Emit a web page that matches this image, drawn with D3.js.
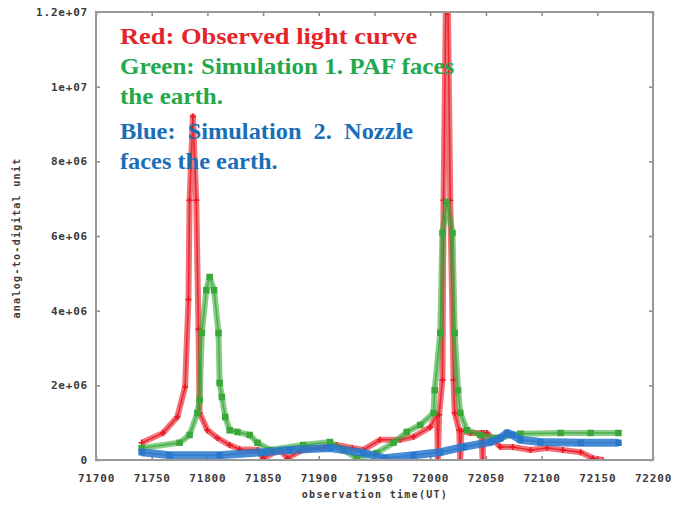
<!DOCTYPE html>
<html>
<head>
<meta charset="utf-8">
<script src="https://cdn.jsdelivr.net/npm/d3@7"></script>
<style>
  body { margin: 0; background: #fff; }
  svg { display: block; }
  .tick text { font-family: "DejaVu Sans Mono", monospace; font-weight: bold; font-size: 11px; fill: #3a3a3a; letter-spacing: 0.8px; }
  .tick line { stroke: #888; stroke-width: 1.5; }
  .title { font-family: "DejaVu Sans Mono", monospace; font-weight: bold; font-size: 10px; fill: #3a3a3a; letter-spacing: 1.3px; }
  .note { font-family: "Liberation Serif", "Times New Roman", serif; font-weight: bold; font-size: 23px; }
</style>
</head>
<body>
<svg width="675" height="505"></svg>
<script>
// observed light curve (red)
var redTime = [71741, 71760, 71773, 71780, 71783, 71784, 71787, 71790, 71792, 71793, 71800, 71809, 71820, 71829,
  71845, 71850, 71865, 71872, 71883, 71890, 71905, 71916, 71930, 71940, 71955, 71973, 71985, 72000, 72006, 72007,
  72008, 72011, 72012, 72014, 72016, 72018, 72021, 72022, 72026, 72027, 72028, 72036, 72046, 72047, 72048, 72051,
  72063, 72074, 72090, 72105, 72119, 72135, 72146, 72155];
var redADU = [0.46e6, 0.72e6, 1.15e6, 1.96e6, 4.3e6, 6.96e6, 9.2e6, 6.96e6, 3.5e6, 1.26e6, 0.8e6, 0.59e6, 0.4e6, 0.29e6,
  0.27e6, 0.05e6, 0.27e6, 0.05e6, 0.24e6, 0.3e6, 0.33e6, 0.4e6, 0.32e6, 0.27e6, 0.54e6, 0.54e6, 0.62e6, 0.88e6, 1.21e6, 0,
  1.21e6, 2.14e6, 6.96e6, 1.2e7, 1.2e7, 6.96e6, 2.14e6, 1.26e6, 0.8e6, 0, 0.78e6, 0.72e6, 0.72e6, 0, 0.72e6, 0.72e6,
  0.35e6, 0.35e6, 0.27e6, 0.32e6, 0.27e6, 0.21e6, 0.05e6, 0];

// simulation 1 (green)
var greenTime = [71741, 71775, 71784, 71791, 71793, 71795, 71799, 71802, 71806, 71810, 71811, 71813, 71816, 71820,
  71827, 71838, 71845, 71856, 71886, 71910, 71922, 71934, 71952, 71967, 71979, 71991, 72003, 72004, 72009, 72011,
  72015, 72020, 72022, 72025, 72027, 72033, 72045, 72060, 72081, 72117, 72144, 72169];
var greenADU = [0.32e6, 0.46e6, 0.67e6, 1.26e6, 1.61e6, 3.4e6, 4.55e6, 4.9e6, 4.55e6, 3.4e6, 2.06e6, 1.69e6, 1.15e6, 0.8e6,
  0.75e6, 0.67e6, 0.46e6, 0.27e6, 0.4e6, 0.48e6, 0.27e6, 0.05e6, 0.19e6, 0.46e6, 0.75e6, 0.94e6, 1.26e6, 1.87e6, 3.4e6, 6.08e6,
  6.91e6, 6.08e6, 3.4e6, 1.87e6, 1.26e6, 0.8e6, 0.67e6, 0.59e6, 0.7e6, 0.72e6, 0.72e6, 0.72e6];

// simulation 2 (blue)
var blueTime = [71741, 71766, 71811, 71850, 71874, 71910, 71940, 71959, 71985, 72009, 72030, 72054, 72063, 72069,
  72074, 72081, 72099, 72135, 72169];
var blueADU = [0.21e6, 0.13e6, 0.13e6, 0.21e6, 0.27e6, 0.32e6, 0.19e6, 0.05e6, 0.13e6, 0.21e6, 0.35e6, 0.48e6, 0.59e6, 0.72e6,
  0.67e6, 0.54e6, 0.48e6, 0.46e6, 0.46e6];

var xTicks = [71700, 71750, 71800, 71850, 71900, 71950, 72000, 72050, 72100, 72150, 72200];
var yTicks = [0, 2e6, 4e6, 6e6, 8e6, 1e7, 1.2e7];

var svg = d3.select('svg');

var x = d3.scaleLinear().domain([71700, 72200]).range([96, 653]);
var y = d3.scaleLinear().domain([0, 1.2e7]).range([460, 12]);

// 1e+07 style labels
function sci(v) {
  if (v === 0) return '0';
  return v.toExponential().replace(/e\+(\d)$/, 'e+0$1');
}

// axes with inward ticks, mirrored on top and right
svg.append('g').attr('transform', 'translate(96,0)')
  .call(d3.axisLeft(y).tickValues(yTicks).tickSize(-4).tickPadding(8).tickFormat(sci))
  .select('.domain').remove();
svg.append('g').attr('transform', 'translate(653,0)')
  .call(d3.axisRight(y).tickValues(yTicks).tickSize(-4).tickFormat(''))
  .select('.domain').remove();
svg.append('g').attr('transform', 'translate(0,460)')
  .call(d3.axisBottom(x).tickValues(xTicks).tickSize(-4).tickPadding(14).tickFormat(d3.format('d')))
  .select('.domain').remove();
svg.append('g').attr('transform', 'translate(0,12)')
  .call(d3.axisTop(x).tickValues(xTicks).tickSize(-4).tickFormat(''))
  .select('.domain').remove();

svg.selectAll('.tick text').attr('font-family', null).attr('font-size', null);

// series
svg.append('clipPath').attr('id', 'plot')
  .append('rect').attr('x', 96).attr('y', 12).attr('width', 557).attr('height', 448);

function series(times, values, color, band, bandOpacity, marker) {
  var pts = times.map(function (t, i) { return [t, values[i]]; });
  var line = d3.line().x(function (d) { return x(d[0]); }).y(function (d) { return y(d[1]); });
  var g = svg.append('g').attr('clip-path', 'url(#plot)');
  g.append('path').datum(pts)
    .attr('fill', 'none').attr('stroke', color).attr('stroke-width', band)
    .attr('stroke-opacity', bandOpacity).attr('stroke-linejoin', 'round').attr('d', line);
  g.append('path').datum(pts)
    .attr('fill', 'none').attr('stroke', color).attr('stroke-width', 1.5)
    .attr('stroke-opacity', 0.8).attr('d', line);
  g.selectAll('path.m').data(pts).enter().append('path')
    .attr('class', 'm')
    .attr('d', function (d) {
      var cx = x(d[0]), cy = y(d[1]);
      if (marker === 'plus') return 'M' + (cx - 3) + ',' + cy + 'H' + (cx + 3) + 'M' + cx + ',' + (cy - 3) + 'V' + (cy + 3);
      return 'M' + (cx - 2.5) + ',' + (cy - 2.5) + 'h5v5h-5z';
    })
    .attr('fill', marker === 'plus' ? 'none' : color)
    .attr('stroke', color).attr('stroke-width', 1.5);
}

series(redTime, redADU, '#e8141e', 6, 0.6, 'plus');
series(greenTime, greenADU, '#3aa838', 6, 0.6, 'dot');
series(blueTime, blueADU, '#2a78cc', 8, 0.85, 'dot');

// frame
svg.append('rect').attr('x', 96).attr('y', 12).attr('width', 557).attr('height', 448)
  .attr('fill', 'none').attr('stroke', '#999').attr('stroke-width', 2);

// axis titles
svg.append('text').attr('class', 'title')
  .attr('x', 375).attr('y', 498).attr('text-anchor', 'middle')
  .text('observation time(UT)');
svg.append('text').attr('class', 'title')
  .attr('transform', 'translate(20,238) rotate(-90)').attr('text-anchor', 'middle')
  .text('analog-to-digital unit');

// notes
var notes = [
  { text: 'Red: Observed light curve', y: 44, color: '#e4232b', sx: 1.15 },
  { text: 'Green: Simulation 1. PAF faces', y: 74, color: '#23a84c', sx: 1.09 },
  { text: 'the earth.', y: 104, color: '#23a84c', sx: 1.09 },
  { text: 'Blue:  Simulation  2.  Nozzle', y: 139, color: '#1a6eb8', sx: 1.06 },
  { text: 'faces the earth.', y: 169, color: '#1a6eb8', sx: 1.06 }
];
svg.selectAll('text.note').data(notes).enter().append('text')
  .attr('class', 'note')
  .attr('transform', function (d) { return 'translate(120,' + d.y + ') scale(' + d.sx + ',1)'; })
  .attr('fill', function (d) { return d.color; })
  .style('white-space', 'pre')
  .text(function (d) { return d.text; });
</script>
</body>
</html>
